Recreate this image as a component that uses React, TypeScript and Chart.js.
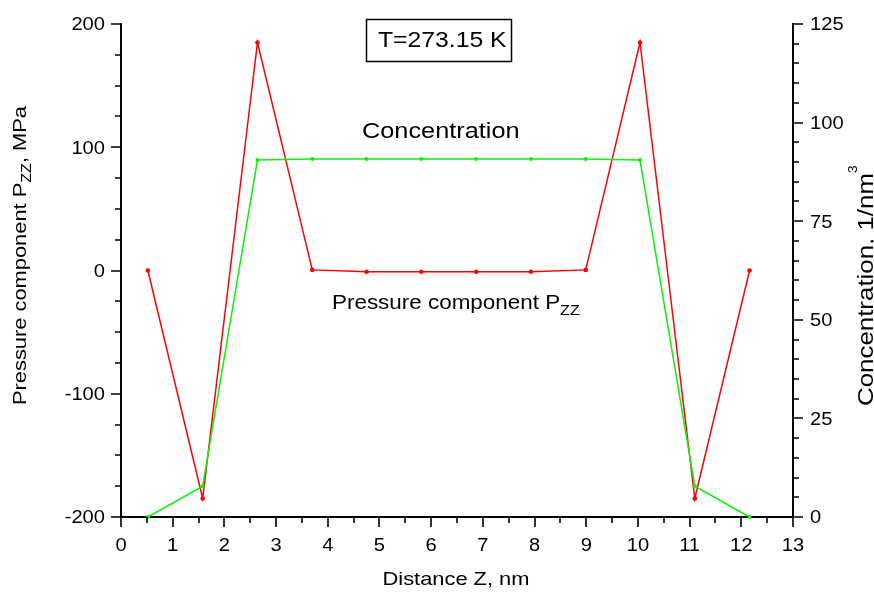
import React, { useEffect, useRef } from "react";
import { Chart, registerables } from "chart.js";

Chart.register(...registerables);

// ---- data ----
const DISTANCE = [0.52, 1.58, 2.64, 3.7, 4.75, 5.81, 6.87, 7.93, 8.99, 10.04, 11.1, 12.16];
const PRESSURE = [0, -185, 185, 0.5, -1, -1, -1, -1, 0.5, 185, -185, 0];
const CONCENTRATION = [0, 7.8, 90.5, 90.8, 90.8, 90.8, 90.8, 90.8, 90.8, 90.5, 7.8, 0];

const X_TICKS = [0, 1, 2, 3, 4, 5, 6, 7, 8, 9, 10, 11, 12, 13];
const LEFT_TICKS = [-200, -100, 0, 100, 200];
const RIGHT_TICKS = [0, 25, 50, 75, 100, 125];
const X_MINOR_STEP = 0.5;
const LEFT_MINOR_STEP = 25;
const RIGHT_MINOR_STEP = 5;

const FONT = "'Liberation Sans', Arial, sans-serif";
const STRETCH = 1.15;

type Seg = { text: string; size: number; dy?: number };

function drawRich(
  ctx: CanvasRenderingContext2D,
  segs: Seg[],
  x: number,
  y: number,
  align: "left" | "center" | "right",
  rotation = 0
) {
  ctx.save();
  ctx.translate(x, y);
  ctx.rotate(rotation);
  ctx.scale(STRETCH, 1);
  ctx.textAlign = "left";
  ctx.textBaseline = "alphabetic";
  let total = 0;
  const widths = segs.map((s) => {
    ctx.font = `${s.size}px ${FONT}`;
    const w = ctx.measureText(s.text).width;
    total += w;
    return w;
  });
  let cx = align === "left" ? 0 : align === "center" ? -total / 2 : -total;
  segs.forEach((s, i) => {
    ctx.font = `${s.size}px ${FONT}`;
    ctx.fillText(s.text, cx, s.dy || 0);
    cx += widths[i];
  });
  ctx.restore();
}

const overlayPlugin = {
  id: "overlay",
  afterDraw(chart: any) {
    const ctx: CanvasRenderingContext2D = chart.ctx;
    const { left, right, top, bottom } = chart.chartArea;
    const xs = chart.scales.x;
    const yl = chart.scales.y;
    const yr = chart.scales.y2;
    ctx.save();
    ctx.fillStyle = "#000";
    ctx.strokeStyle = "#000";
    ctx.lineWidth = 1.6;
    const MAJ = 10;
    const MIN = 6;

    // x ticks
    ctx.beginPath();
    for (let v = xs.min; v <= xs.max + 1e-9; v += X_MINOR_STEP) {
      const px = Math.round(xs.getPixelForValue(v));
      const isMajor = Math.abs(v - Math.round(v)) < 1e-9;
      ctx.moveTo(px, bottom);
      ctx.lineTo(px, bottom + (isMajor ? MAJ : MIN));
    }
    // left ticks
    for (let v = yl.min; v <= yl.max + 1e-9; v += LEFT_MINOR_STEP) {
      const py = Math.round(yl.getPixelForValue(v));
      const isMajor = Math.abs(v % 100) < 1e-9;
      ctx.moveTo(left, py);
      ctx.lineTo(left - (isMajor ? MAJ : MIN), py);
    }
    // right ticks
    for (let v = yr.min; v <= yr.max + 1e-9; v += RIGHT_MINOR_STEP) {
      const py = Math.round(yr.getPixelForValue(v));
      const isMajor = Math.abs(v % 25) < 1e-9;
      ctx.moveTo(right, py);
      ctx.lineTo(right + (isMajor ? MAJ : MIN), py);
    }
    ctx.stroke();

    // tick labels
    const TS = 17.5;
    xs.ticks.forEach((t: any) => {
      drawRich(ctx, [{ text: String(t.value), size: TS }], xs.getPixelForValue(t.value), 551, "center");
    });
    yl.ticks.forEach((t: any) => {
      drawRich(ctx, [{ text: String(t.value), size: TS }], left - 16, yl.getPixelForValue(t.value) + 6.3, "right");
    });
    yr.ticks.forEach((t: any) => {
      drawRich(ctx, [{ text: String(t.value), size: TS }], right + 17, yr.getPixelForValue(t.value) + 6.3, "left");
    });

    // axis titles
    drawRich(ctx, [{ text: "Distance Z, nm", size: 19 }], (left + right) / 2 - 1, 585, "center");
    drawRich(
      ctx,
      [
        { text: "Pressure component P", size: 19 },
        { text: "ZZ", size: 14, dy: 5 },
        { text: ", MPa", size: 19 },
      ],
      26,
      405,
      "left",
      -Math.PI / 2
    );
    drawRich(
      ctx,
      [
        { text: "Concentration, 1/nm", size: 22.5 },
        { text: "3", size: 12, dy: -16 },
      ],
      872.5,
      406,
      "left",
      -Math.PI / 2
    );

    // annotations
    ctx.lineWidth = 1.5;
    ctx.strokeRect(366.5, 19.5, 145, 42);
    drawRich(ctx, [{ text: "T=273.15 K", size: 21.5 }], 378, 47, "left");
    drawRich(ctx, [{ text: "Concentration", size: 22 }], 362, 138, "left");
    drawRich(
      ctx,
      [
        { text: "Pressure component P", size: 19.5 },
        { text: "ZZ", size: 14, dy: 6 },
      ],
      332,
      309,
      "left"
    );
    ctx.restore();
  },
};

export default function App() {
  const ref = useRef<HTMLCanvasElement | null>(null);
  useEffect(() => {
    document.body.style.margin = "0";
    const canvas = ref.current!;
    const hidden = "rgba(0,0,0,0)";
    const chart = new Chart(canvas, {
      type: "line",
      data: {
        datasets: [
          {
            label: "Concentration",
            data: DISTANCE.map((x, i) => ({ x, y: CONCENTRATION[i] })),
            yAxisID: "y2",
            borderColor: "#11ee11",
            backgroundColor: "#11ee11",
            borderWidth: 1.5,
            pointRadius: 2,
            pointBorderWidth: 0,
            tension: 0,
            clip: false as any,
          },
          {
            label: "Pressure",
            data: DISTANCE.map((x, i) => ({ x, y: PRESSURE[i] })),
            yAxisID: "y",
            borderColor: "#ff0000",
            backgroundColor: "#ff0000",
            borderWidth: 1.5,
            pointRadius: 2.3,
            pointBorderWidth: 0,
            tension: 0,
            clip: false as any,
          },
        ],
      },
      options: {
        responsive: false,
        animation: false,
        devicePixelRatio: 1,
        layout: { padding: { top: 24, left: 0, right: 0, bottom: 0 } },
        plugins: { legend: { display: false }, tooltip: { enabled: false } },
        scales: {
          x: {
            type: "linear",
            min: X_TICKS[0],
            max: X_TICKS[X_TICKS.length - 1],
            afterBuildTicks: (s: any) => {
              s.ticks = X_TICKS.map((v) => ({ value: v }));
            },
            afterFit: (s: any) => {
              s.height = 75;
            },
            grid: { display: false },
            border: { display: true, color: "#000", width: 2 },
            ticks: { color: hidden, autoSkip: false, maxRotation: 0 },
          },
          y: {
            type: "linear",
            position: "left",
            min: LEFT_TICKS[0],
            max: LEFT_TICKS[LEFT_TICKS.length - 1],
            afterBuildTicks: (s: any) => {
              s.ticks = LEFT_TICKS.map((v) => ({ value: v }));
            },
            afterFit: (s: any) => {
              s.width = 121;
            },
            grid: { display: false },
            border: { display: true, color: "#000", width: 2 },
            ticks: { color: hidden, autoSkip: false },
          },
          y2: {
            type: "linear",
            position: "right",
            min: RIGHT_TICKS[0],
            max: RIGHT_TICKS[RIGHT_TICKS.length - 1],
            afterBuildTicks: (s: any) => {
              s.ticks = RIGHT_TICKS.map((v) => ({ value: v }));
            },
            afterFit: (s: any) => {
              s.width = 81;
            },
            grid: { display: false },
            border: { display: true, color: "#000", width: 2 },
            ticks: { color: hidden, autoSkip: false },
          },
        },
      },
      plugins: [overlayPlugin],
    } as any);
    return () => chart.destroy();
  }, []);
  return (
    <div style={{ width: 874, height: 592, background: "#fff" }}>
      <canvas ref={ref} width={874} height={592} style={{ display: "block" }} />
    </div>
  );
}
